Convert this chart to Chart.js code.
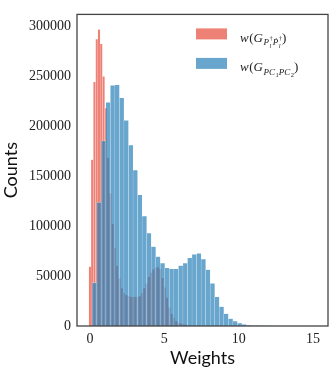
<!DOCTYPE html>
<html>
<head>
<meta charset="utf-8">
<script src="https://cdn.jsdelivr.net/npm/chart.js@4"></script>
<style>
  body { margin: 0; background: #fff; }
  canvas { display: block; }
</style>
</head>
<body>
<canvas id="histChart" width="332" height="375"></canvas>
<script>
// histogram bins start at 0, fixed width per series
const redBinWidth = 0.1525;
const blueBinWidth = 0.305;
const xTicks = [0, 5, 10, 15];
const yTicks = [0, 50000, 100000, 150000, 200000, 250000, 300000];

// w(G_{P†P†}) counts
const redCounts = [59500, 166600, 244500, 287300, 296900, 282500, 250000, 218000, 168200, 132900,
  102300, 78200, 60500, 47600, 37900, 33100, 31000, 30000, 29300, 29000,
  29000, 29300, 29900, 33100, 37900, 42700, 49200, 53400, 56600, 58600,
  58900, 57200, 48200, 38600, 28300, 18600, 12300, 8400, 5100, 3200,
  2600, 2000, 1500, 1000, 700, 500, 300, 200, 100, 50];

// w(G_{PC1PC2}) counts
const blueCounts = [43400, 123800, 185300, 223900, 241000, 241300, 228400, 205900, 181100, 156000,
  131200, 110000, 92900, 79400, 69500, 63000, 58200, 57200, 57200, 60500,
  63000, 68200, 71700, 72700, 66900, 56300, 42700, 29000, 19300, 12300,
  7400, 4800, 2900, 1600, 700, 500, 300, 200, 120, 80,
  50, 30, 20, 12, 8, 5, 3, 2, 1, 1];

const xMin = -0.87, xMax = 16.0, yMax = 312000;

function toPoints(counts, width) {
    return counts.map((c, i) => ({ x: (i + 0.5) * width, y: c }));
}

// bar width in pixels = one bin on the x scale
function binThickness(width) {
    return ctx => {
        const s = ctx.chart.scales.x;
        return Math.abs(s.getPixelForValue(width) - s.getPixelForValue(0));
    };
}

const serif = '"Liberation Serif", "DejaVu Serif", serif';
const sans = 'Lato, "Open Sans", sans-serif';
const redFill = 'rgba(231,76,60,0.7)';
const blueFill = 'rgba(41,128,185,0.7)';

// legend labels with sub/superscripts, drawn on the canvas
const legendItems = [
    { color: redFill, runs: [
        ['w', 13, 0, true], ['(', 13, 0, false], ['G', 13, 0, true],
        ['P', 9, 3.5, true], ['l', 6.5, 6, true, 'stack'], ['\u2020', 6.5, -1.5, false],
        ['\u1E56', 9, 3.5, true], ['l', 6.5, 6, true, 'stack'], ['\u2020', 6.5, -1.5, false],
        [')', 13, 0, false]
    ]},
    { color: blueFill, runs: [
        ['w', 13, 0, true], ['(', 13, 0, false], ['G', 13, 0, true],
        ['PC', 9, 3.5, true], ['1', 6.5, 5.5, false],
        ['PC', 9, 3.5, true], ['2', 6.5, 5.5, false],
        [')', 13, 0, false]
    ]}
];

function drawRuns(ctx, runs, x, y) {
    let stackW = 0;
    for (const [t, size, dy, it, mode] of runs) {
        ctx.font = (it ? 'italic ' : '') + size + 'px ' + serif;
        const w = ctx.measureText(t).width;
        ctx.fillText(t, x, y + dy);
        if (mode === 'stack') {
            stackW = w;
        } else {
            x += Math.max(w, stackW) + (it ? 0.5 : 0);
            stackW = 0;
        }
    }
}

const framePlugin = {
    id: 'frameAndLegend',
    afterDraw(chart) {
        const { ctx, chartArea: a } = chart;
        ctx.save();
        ctx.strokeStyle = '#444';
        ctx.lineWidth = 1.3;
        ctx.strokeRect(a.left, a.top, a.right - a.left, a.bottom - a.top);
        ctx.textBaseline = 'alphabetic';
        legendItems.forEach((item, i) => {
            const top = a.top + 14 + i * 29.5;
            ctx.fillStyle = item.color;
            ctx.fillRect(a.right - 132, top, 31, 11);
            ctx.fillStyle = '#222';
            drawRuns(ctx, item.runs, a.right - 88, top + 13.5);
        });
        ctx.restore();
    }
};

const plainTick = v => String(v);

new Chart(document.getElementById('histChart').getContext('2d'), {
    type: 'bar',
    data: {
        datasets: [{
            label: 'w(G_P\u2020P\u2020)',
            data: toPoints(redCounts, redBinWidth),
            xAxisID: 'x',
            backgroundColor: redFill,
            borderColor: 'rgba(255,255,255,0.5)',
            borderWidth: 0.4,
            barThickness: binThickness(redBinWidth),
            order: 1
        }, {
            label: 'w(G_PC1PC2)',
            data: toPoints(blueCounts, blueBinWidth),
            xAxisID: 'x2',
            backgroundColor: blueFill,
            borderColor: 'rgba(255,255,255,0.5)',
            borderWidth: 0.4,
            barThickness: binThickness(blueBinWidth),
            order: 0
        }]
    },
    options: {
        responsive: false,
        animation: false,
        devicePixelRatio: 1,
        layout: { padding: { top: 3, right: 4, left: 0, bottom: 0 } },
        plugins: { legend: { display: false }, tooltip: { enabled: false } },
        scales: {
            x: {
                type: 'linear',
                offset: false,
                min: xMin, max: xMax,
                grid: { display: false, drawTicks: false, offset: false },
                border: { display: false },
                afterBuildTicks: s => { s.ticks = xTicks.map(v => ({ value: v })); },
                afterFit: s => { s.height = 49; },
                ticks: { font: { family: serif, size: 14 }, color: '#222', padding: 5, maxRotation: 0, callback: plainTick },
                title: { display: true, text: 'Weights', font: { family: sans, size: 18 }, color: '#111', padding: { top: 0, bottom: 6 } }
            },
            x2: {
                type: 'linear',
                offset: false,
                min: xMin, max: xMax,
                display: false,
                grid: { offset: false },
                afterBuildTicks: s => { s.ticks = xTicks.map(v => ({ value: v })); }
            },
            y: {
                min: 0, max: yMax,
                grid: { display: false, drawTicks: false },
                border: { display: false },
                afterBuildTicks: s => { s.ticks = yTicks.map(v => ({ value: v })); },
                afterFit: s => { s.width = 77; },
                ticks: { font: { family: serif, size: 14 }, color: '#222', padding: 6, callback: plainTick },
                title: { display: true, text: 'Counts', font: { family: sans, size: 18 }, color: '#111', padding: { top: 0, bottom: 0 } }
            }
        }
    },
    plugins: [framePlugin]
});
</script>
</body>
</html>
